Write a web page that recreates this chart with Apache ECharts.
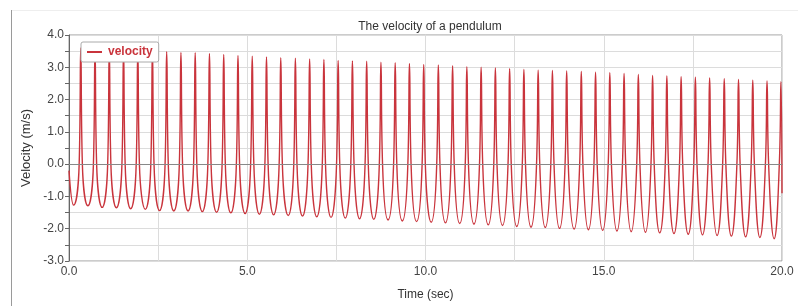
<!DOCTYPE html>
<html>
<head>
<meta charset="utf-8">
<script src="https://cdn.jsdelivr.net/npm/echarts@6/dist/echarts.min.js"></script>
<style>
html,body{margin:0;padding:0;background:#fff;}
#chart{width:798px;height:306px;}
</style>
</head>
<body>
<div id="chart"></div>
<script>
// Readings from the reference picture
const peakTimes = [0.33,0.73,1.13,1.53,1.93,2.34,2.74,3.14,3.54,3.94,4.34,4.74,5.14,5.54,5.94,6.35,6.75,7.15,7.55,7.95,8.35,8.75,9.15,9.55,9.95,10.36,10.76,11.16,11.56,11.96,12.36,12.76,13.16,13.56,13.96,14.37,14.77,15.17,15.57,15.97,16.37,16.77,17.17,17.57,17.97,18.38,18.78,19.18,19.58,19.97];
const peakValues = [3.60,3.52,3.51,3.50,3.50,3.49,3.48,3.46,3.45,3.43,3.40,3.37,3.34,3.32,3.30,3.28,3.26,3.24,3.21,3.20,3.19,3.16,3.14,3.12,3.09,3.07,3.05,3.02,3.00,2.98,2.96,2.93,2.91,2.90,2.89,2.87,2.85,2.83,2.81,2.78,2.75,2.73,2.71,2.69,2.67,2.65,2.62,2.60,2.58,2.55];
const troughTimes = [0.13,0.53,0.93,1.33,1.73,2.14,2.54,2.94,3.34,3.74,4.14,4.54,4.94,5.34,5.74,6.15,6.55,6.95,7.35,7.75,8.15,8.55,8.95,9.35,9.75,10.16,10.56,10.96,11.36,11.76,12.16,12.56,12.96,13.36,13.76,14.17,14.57,14.97,15.37,15.77,16.17,16.57,16.97,17.37,17.77,18.18,18.58,18.98,19.38,19.78];
const troughValues = [-1.27,-1.29,-1.34,-1.35,-1.38,-1.40,-1.44,-1.45,-1.45,-1.47,-1.49,-1.51,-1.53,-1.55,-1.57,-1.59,-1.61,-1.63,-1.65,-1.67,-1.69,-1.71,-1.73,-1.76,-1.78,-1.80,-1.82,-1.84,-1.86,-1.88,-1.90,-1.93,-1.95,-1.96,-1.99,-2.01,-2.03,-2.05,-2.07,-2.09,-2.11,-2.13,-2.15,-2.17,-2.19,-2.21,-2.23,-2.25,-2.27,-2.31];
const spikeHalfWidthAtZero = 0.045; // measured spike half-width (s) where the curve crosses 0
const startPoint = [0, -0.2];
const endPoint = [20, -0.9];

const xTicks = ['0.0','5.0','10.0','15.0','20.0'];

const seriesData = [startPoint];
for (let k = 0; k < peakTimes.length; k++) {
  seriesData.push([troughTimes[k], troughValues[k]]);
  seriesData.push([peakTimes[k] - spikeHalfWidthAtZero, 0]);
  seriesData.push([peakTimes[k], peakValues[k]]);
  if (k < peakTimes.length - 1) seriesData.push([peakTimes[k] + spikeHalfWidthAtZero, 0]);
}
seriesData.push(endPoint);

const FONT = '"Liberation Sans", Arial, sans-serif';
const RED = '#c9343c';
const chart = echarts.init(document.getElementById('chart'), null, {renderer: 'canvas'});
chart.setOption({
  backgroundColor: '#fff',
  animation: false,
  title: {
    text: 'The velocity of a pendulum',
    left: 425, textAlign: 'center', top: 16,
    textStyle: {fontFamily: FONT, fontSize: 12, fontWeight: 'normal', color: '#333'}
  },
  legend: {
    left: 81, top: 42,
    padding: [4, 6, 4, 6],
    borderColor: '#aaa', borderWidth: 1, borderRadius: 2,
    backgroundColor: '#fff',
    itemWidth: 15, itemHeight: 2, itemGap: 4,
    textStyle: {fontFamily: FONT, fontSize: 12, fontWeight: 'bold', color: RED, padding: [0, 0, 0, 1]},
    data: [{name: 'velocity', icon: 'rect', itemStyle: {color: RED}}]
  },
  grid: {left: 69, right: 16, top: 35, bottom: 44, show: true, borderColor: '#999', borderWidth: 1},
  xAxis: {
    type: 'value', min: 0, max: 20, interval: 2.5,
    name: 'Time (sec)', nameLocation: 'middle', nameGap: 28,
    nameTextStyle: {fontFamily: FONT, fontSize: 12, color: '#333'},
    axisLine: {show: true, lineStyle: {color: '#888'}},
    axisTick: {show: false},
    axisLabel: {
      fontFamily: FONT, fontSize: 12, color: '#444', margin: 5,
      formatter: v => (Math.abs(v % 5) < 1e-9 ? xTicks[Math.round(v / 5)] : '')
    },
    splitLine: {show: true, lineStyle: {color: '#dcdcdc'}}
  },
  yAxis: {
    type: 'value', min: -3, max: 4, interval: 0.5,
    name: 'Velocity (m/s)', nameLocation: 'middle', nameGap: 36, nameRotate: 90,
    nameTextStyle: {fontFamily: FONT, fontSize: 13, color: '#333'},
    axisLine: {show: true, lineStyle: {color: '#666'}},
    axisTick: {show: true, length: 4, lineStyle: {color: '#666'}},
    axisLabel: {
      fontFamily: FONT, fontSize: 12, color: '#444', margin: 5,
      formatter: v => (Math.abs(v - Math.round(v)) < 1e-9 ? v.toFixed(1) : '')
    },
    splitLine: {show: true, lineStyle: {color: '#dcdcdc'}}
  },
  series: [{
    name: 'velocity',
    type: 'line',
    data: seriesData,
    showSymbol: false, symbol: 'none',
    smooth: 0.5,
    lineStyle: {color: RED, width: 1.4},
    itemStyle: {color: RED},
    markLine: {
      silent: true, symbol: 'none', label: {show: false},
      lineStyle: {color: '#888', width: 1, type: 'solid'},
      data: [{yAxis: 0}]
    },
    z: 3
  }],
  graphic: [
    {type: 'line', shape: {x1: 11.5, y1: 10, x2: 11.5, y2: 306}, style: {stroke: '#9a9a9a', lineWidth: 1}},
    {type: 'line', shape: {x1: 12, y1: 10.5, x2: 798, y2: 10.5}, style: {stroke: '#eeeeee', lineWidth: 1}}
  ]
});
</script>
</body>
</html>
